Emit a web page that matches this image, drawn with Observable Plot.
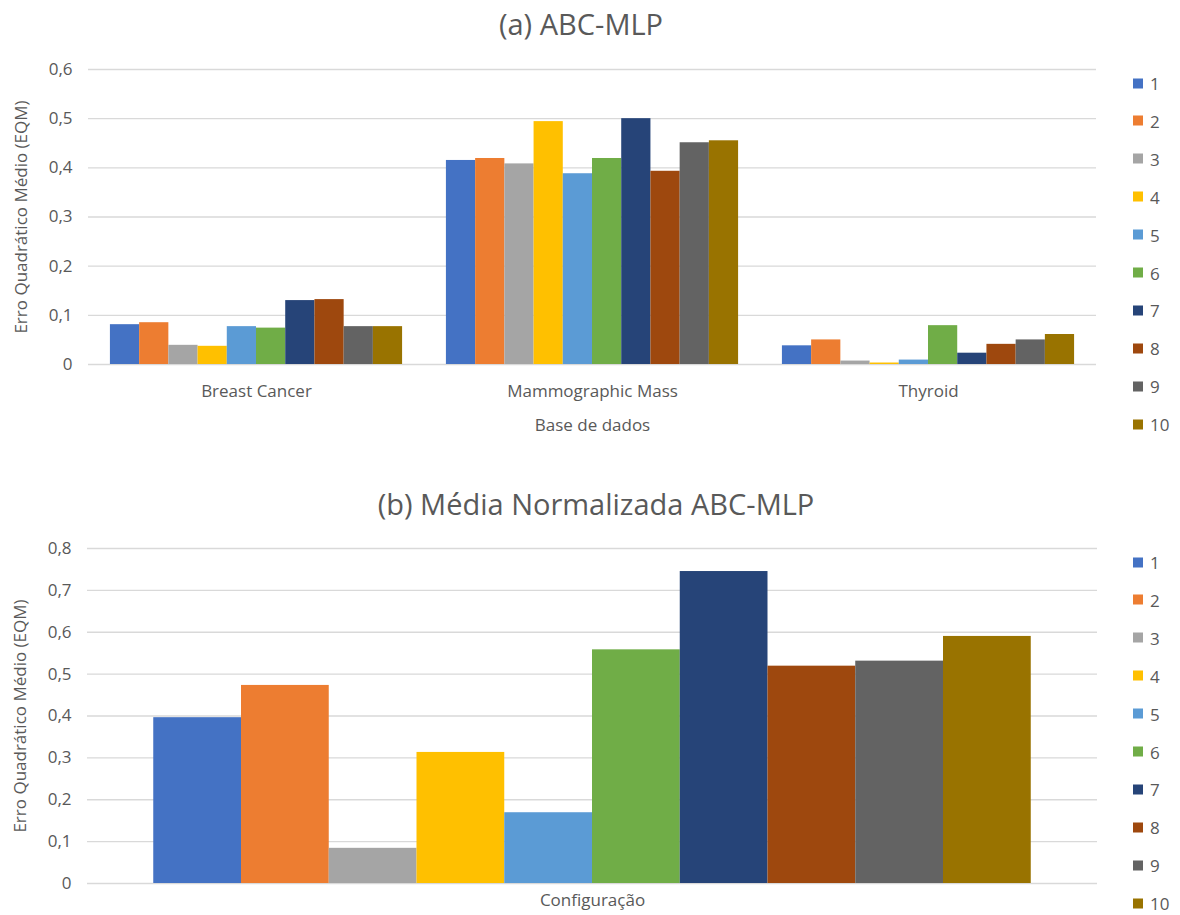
<!DOCTYPE html>
<html>
<head>
<meta charset="utf-8">
<script src="https://cdn.jsdelivr.net/npm/d3@7"></script>
<script src="https://cdn.jsdelivr.net/npm/@observablehq/plot@0.6"></script>
<style>
  html, body { margin: 0; padding: 0; background: #fff; }
  #page { position: relative; width: 1180px; height: 915px; overflow: hidden; font-family: "Open Sans", sans-serif; color: #595959; }
  .title { position: absolute; width: 600px; text-align: center; font-size: 29px; line-height: 1; white-space: nowrap; }
  .chart { position: absolute; left: 0; }
  .legend { position: absolute; left: 1133px; font-size: 17px; }
  .legend .item { position: absolute; left: 0; display: flex; align-items: center; white-space: nowrap; transform: translateY(-50%); }
  .legend .sw { width: 10px; height: 10px; margin-right: 7px; }
</style>
</head>
<body>
<div id="page"></div>
<script>
// Datasets and network configurations
const datasets = ["Breast Cancer", "Mammographic Mass", "Thyroid"];
const configs = ["1", "2", "3", "4", "5", "6", "7", "8", "9", "10"];

// Mean squared error (EQM) per configuration, ABC-MLP
const breastCancer     = [0.081, 0.085, 0.039, 0.037, 0.077, 0.074, 0.130, 0.132, 0.077, 0.077];
const mammographicMass = [0.415, 0.419, 0.408, 0.494, 0.388, 0.419, 0.500, 0.393, 0.451, 0.455];
const thyroid          = [0.038, 0.050, 0.007, 0.003, 0.009, 0.079, 0.023, 0.041, 0.050, 0.061];

// Normalized mean across datasets, ABC-MLP
const normalizedGroup = ["Configuração"];
const normalizedMean  = [0.396, 0.473, 0.084, 0.313, 0.169, 0.558, 0.745, 0.519, 0.531, 0.590];

// Axis ticks
const ticksA = [0, 0.1, 0.2, 0.3, 0.4, 0.5, 0.6];
const ticksB = [0, 0.1, 0.2, 0.3, 0.4, 0.5, 0.6, 0.7, 0.8];

// Series colours (Office palette)
const seriesColors = ["#4472C4", "#ED7D31", "#A5A5A5", "#FFC000", "#5B9BD5",
                      "#70AD47", "#264478", "#9E480E", "#636363", "#997300"];

const yTitle = "Erro Quadrático Médio (EQM)";
const fmt = d => d === 0 ? "0" : d.toFixed(1).replace(".", ",");

const seriesA = [breastCancer, mammographicMass, thyroid];
const rowsA = datasets.flatMap((ds, i) =>
  configs.map((c, j) => ({dataset: ds, config: c, value: seriesA[i][j]})));
const rowsB = configs.map((c, j) => ({group: normalizedGroup[0], config: c, value: normalizedMean[j]}));

const page = document.getElementById("page");

function addTitle(text, top, center) {
  const t = document.createElement("div");
  t.className = "title";
  t.style.top = top + "px";
  t.style.left = (center - 300) + "px";
  t.textContent = text;
  page.appendChild(t);
}

function addLegend(top) {
  const lg = document.createElement("div");
  lg.className = "legend";
  lg.style.top = top + "px";
  configs.forEach((c, i) => {
    const it = document.createElement("div");
    it.className = "item";
    it.style.top = (i * 37.9) + "px";
    const sw = document.createElement("span");
    sw.className = "sw";
    sw.style.background = seriesColors[i];
    const lb = document.createElement("span");
    lb.textContent = c;
    it.appendChild(sw);
    it.appendChild(lb);
    lg.appendChild(it);
  });
  page.appendChild(lg);
}

const baseStyle = {fontFamily: "Open Sans, sans-serif", fontSize: "17px", color: "#595959", background: "transparent", overflow: "visible"};

// (a) EQM per dataset
const chartA = Plot.plot({
  width: 1180, height: 404,
  marginLeft: 87, marginRight: 83, marginTop: 29, marginBottom: 80,
  style: baseStyle,
  fx: {domain: datasets, padding: 0, axis: "bottom", tickSize: 0, tickPadding: 20,
       label: "Base de dados", labelAnchor: "center", labelOffset: 66},
  x: {domain: configs, paddingInner: 0, paddingOuter: 0.75, round: false, axis: null},
  y: {domain: [0, 0.6], ticks: ticksA, tickFormat: fmt, tickSize: 0, tickPadding: 16,
      label: yTitle, labelArrow: false, labelAnchor: "center", labelOffset: 74},
  color: {domain: configs, range: seriesColors},
  marks: [
    Plot.ruleY(ticksA, {stroke: "#d9d9d9", strokeWidth: 1.3}),
    Plot.barY(rowsA, {fx: "dataset", x: "config", y: "value", fill: "config"})
  ]
});
chartA.classList.add("chart");
chartA.style.top = "40px";
page.appendChild(chartA);

// (b) normalized mean
const chartB = Plot.plot({
  width: 1180, height: 393,
  marginLeft: 87, marginRight: 83, marginTop: 28, marginBottom: 30,
  style: baseStyle,
  fx: {domain: normalizedGroup, padding: 0, axis: "bottom", tickSize: 0, tickPadding: 10, label: null},
  x: {domain: configs, paddingInner: 0, paddingOuter: 0.755, round: false, axis: null},
  y: {domain: [0, 0.8], ticks: ticksB, tickFormat: fmt, tickSize: 0, tickPadding: 16,
      label: yTitle, labelArrow: false, labelAnchor: "center", labelOffset: 74},
  color: {domain: configs, range: seriesColors},
  marks: [
    Plot.ruleY(ticksB, {stroke: "#d9d9d9", strokeWidth: 1.3}),
    Plot.barY(rowsB, {fx: "group", x: "config", y: "value", fill: "config"})
  ]
});
chartB.classList.add("chart");
chartB.style.top = "520px";
page.appendChild(chartB);

addTitle("(a) ABC-MLP", 9, 581);
addTitle("(b) Média Normalizada ABC-MLP", 489, 596);
addLegend(83);
addLegend(562);
</script>
</body>
</html>
